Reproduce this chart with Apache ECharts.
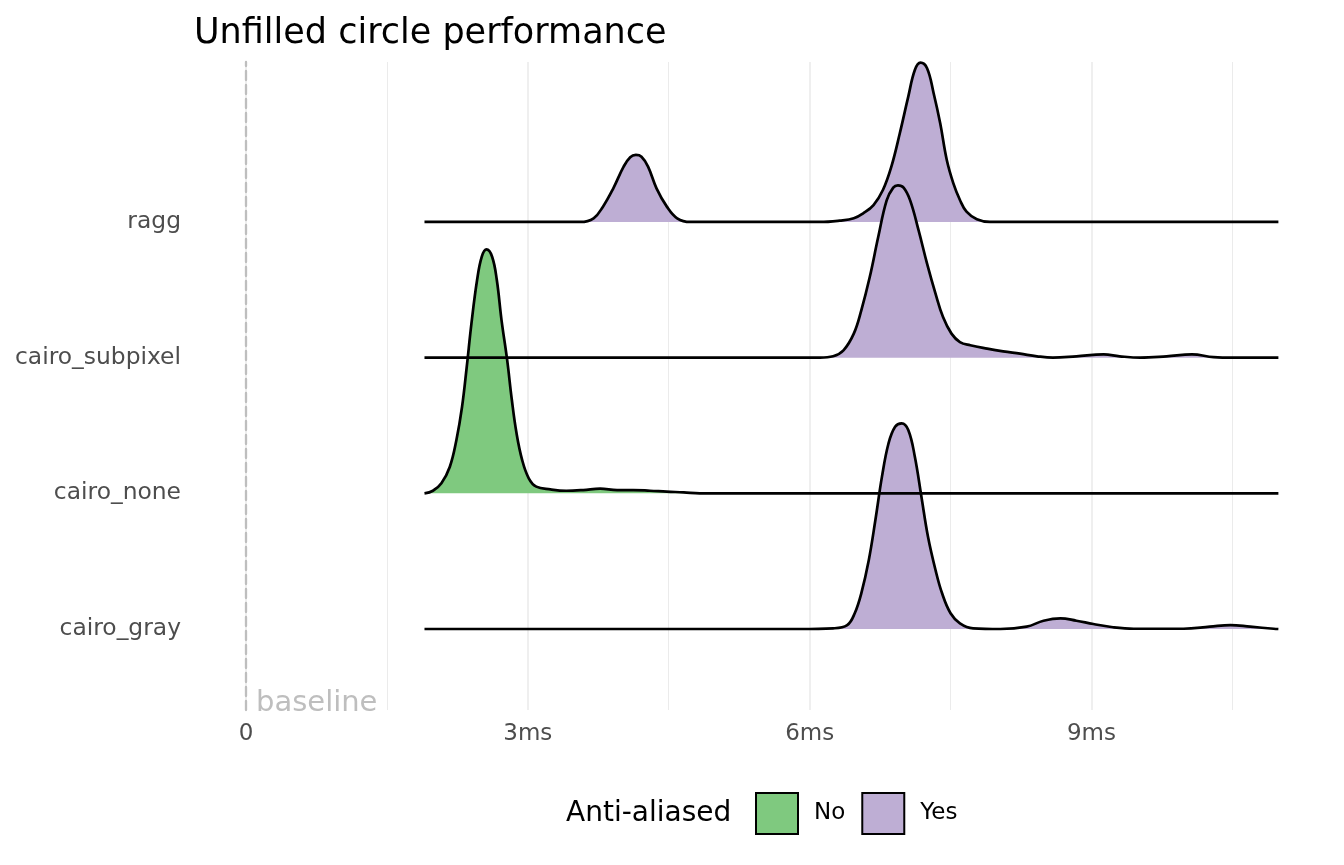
<!DOCTYPE html>
<html>
<head>
<meta charset="utf-8">
<title>Unfilled circle performance</title>
<script src="https://cdn.jsdelivr.net/npm/echarts@6/dist/echarts.min.js"></script>
<style>
  html, body { margin: 0; padding: 0; background: #fff; }
  #chart { width: 1344px; height: 865px; }
</style>
</head>
<body>
<div id="chart"></div>
<script>
// renderers from bottom ridge to top ridge; ridge baseline = index + 1
const renderers = ['cairo_gray', 'cairo_none', 'cairo_subpixel', 'ragg'];
const antiAliased = ['Yes', 'No', 'Yes', 'Yes'];
const fillColors = { No: '#7fc97f', Yes: '#beaed4' };
const xTicks = [0, 3, 6, 9];

// densities: [time (ms), scaled density]
const grayDensity = [
    [1.9, 0], [5.90, 0], [6.25, 0.005], [6.40, 0.029], [6.48, 0.116], [6.55, 0.263],
    [6.63, 0.509], [6.70, 0.803], [6.77, 1.123], [6.84, 1.369], [6.91, 1.491], [6.98, 1.516],
    [7.05, 1.467], [7.12, 1.270], [7.19, 0.975], [7.26, 0.680], [7.34, 0.435], [7.41, 0.263],
    [7.50, 0.116], [7.60, 0.042], [7.74, 0.005], [8.03, 0], [8.31, 0.017], [8.49, 0.061],
    [8.67, 0.079], [8.84, 0.061], [9.02, 0.037], [9.23, 0.013], [9.45, 0.002], [9.98, 0.002],
    [10.26, 0.017], [10.48, 0.029], [10.69, 0.017], [10.94, 0.002], [10.99, 0]
];
const noneDensity = [
    [1.9, 0], [1.99, 0.019], [2.08, 0.074], [2.17, 0.196], [2.24, 0.393], [2.30, 0.638],
    [2.35, 0.933], [2.40, 1.253], [2.46, 1.572], [2.51, 1.744], [2.56, 1.798], [2.62, 1.744],
    [2.67, 1.572], [2.72, 1.277], [2.78, 0.983], [2.83, 0.688], [2.88, 0.442], [2.94, 0.245],
    [3.01, 0.111], [3.09, 0.049], [3.24, 0.029], [3.41, 0.019], [3.59, 0.024], [3.77, 0.034],
    [3.95, 0.024], [4.12, 0.024], [4.30, 0.019], [4.48, 0.012], [4.66, 0.007], [4.83, 0],
    [10.99, 0]
];
const subpixelDensity = [
    [1.9, 0], [6.11, 0], [6.25, 0.010], [6.36, 0.054], [6.47, 0.177], [6.55, 0.349],
    [6.64, 0.594], [6.73, 0.889], [6.82, 1.159], [6.89, 1.253], [6.94, 1.270], [7.00, 1.253],
    [7.07, 1.159], [7.16, 0.938], [7.25, 0.693], [7.34, 0.472], [7.42, 0.299], [7.51, 0.177],
    [7.60, 0.115], [7.71, 0.091], [7.89, 0.066], [8.06, 0.046], [8.24, 0.029], [8.42, 0.010],
    [8.59, 0], [8.84, 0.010], [9.13, 0.024], [9.30, 0.010], [9.52, 0], [9.80, 0.010],
    [10.07, 0.024], [10.30, 0.004], [10.51, 0], [10.99, 0]
];
const raggDensity = [
    [1.9, 0], [3.56, 0], [3.70, 0.027], [3.80, 0.113], [3.91, 0.248], [4.02, 0.408],
    [4.09, 0.477], [4.15, 0.494], [4.21, 0.481], [4.28, 0.408], [4.37, 0.248], [4.48, 0.113],
    [4.59, 0.027], [4.73, 0], [6.11, 0], [6.32, 0.010], [6.47, 0.027], [6.57, 0.064],
    [6.68, 0.125], [6.78, 0.236], [6.87, 0.408], [6.96, 0.654], [7.05, 0.924], [7.12, 1.120],
    [7.18, 1.174], [7.25, 1.133], [7.32, 0.949], [7.39, 0.727], [7.46, 0.457], [7.53, 0.285],
    [7.60, 0.162], [7.67, 0.076], [7.78, 0.020], [7.92, 0], [10.99, 0]
];
const densities = [grayDensity, noneDensity, subpixelDensity, raggDensity];

const yMin = 0.403;
const yMax = 5.179;

const chart = echarts.init(document.getElementById('chart'));

// top ridge first so the lower ridges paint over it, like ggridges
const series = [];
for (let i = renderers.length - 1; i >= 0; i--) {
    const base = i + 1;
    series.push({
        name: antiAliased[i],
        type: 'line',
        data: densities[i].map(d => [d[0], base + d[1]]),
        symbol: 'none',
        smooth: 0.4,
        silent: true,
        lineStyle: { color: '#000', width: 2.7, cap: 'butt', join: 'round' },
        itemStyle: { color: fillColors[antiAliased[i]] },
        areaStyle: { color: fillColors[antiAliased[i]], opacity: 1, origin: base },
        emphasis: { disabled: true }
    });
}

const option = {
    animation: false,
    textStyle: { fontFamily: 'DejaVu Sans' },
    title: {
        text: 'Unfilled circle performance',
        left: 194,
        top: 16,
        padding: 0,
        textStyle: { fontSize: 35, fontWeight: 'normal', color: '#000', fontFamily: 'DejaVu Sans' }
    },
    legend: {
        data: [
            { name: 'No', itemStyle: { color: fillColors.No } },
            { name: 'Yes', itemStyle: { color: fillColors.Yes } }
        ],
        left: 755,
        top: 792,
        padding: 0,
        icon: 'rect',
        itemWidth: 42,
        itemHeight: 41,
        itemGap: 16,
        selectedMode: false,
        itemStyle: { borderColor: '#000', borderWidth: 2 },
        textStyle: { fontSize: 23, color: '#000', padding: [2, 0, 0, 11], fontFamily: 'DejaVu Sans' }
    },
    grid: { left: 246, right: 13, top: 62, bottom: 155, containLabel: false },
    xAxis: {
        type: 'value',
        min: 0,
        max: 11.55,
        interval: 3,
        axisLine: { show: false },
        axisTick: { show: false },
        axisLabel: {
            margin: 13,
            fontSize: 23,
            color: '#4d4d4d',
            showMaxLabel: false,
            formatter: v => xTicks.includes(v) ? (v === 0 ? '0' : v + 'ms') : ''
        },
        splitLine: { show: true, showMaxLine: false, lineStyle: { color: '#ebebeb', width: 1.6 } },
        minorTick: { show: false, splitNumber: 2 },
        minorSplitLine: { show: true, lineStyle: { color: '#ebebeb', width: 1 } }
    },
    yAxis: {
        type: 'value',
        min: yMin,
        max: yMax,
        axisLine: { show: true, lineStyle: { color: '#bebebe', width: 2.3, type: [9, 5] } },
        axisTick: { show: false },
        splitLine: { show: false },
        axisLabel: {
            margin: 65,
            fontSize: 23.4,
            color: '#4d4d4d',
            formatter: v => {
                const i = Math.round(v);
                return Math.abs(v - i) < 1e-6 && i >= 1 && i <= renderers.length ? renderers[i - 1] : '';
            }
        }
    },
    series: series
};

chart.setOption(option);

// annotation at the baseline and legend title
const origin = chart.convertToPixel({ gridIndex: 0 }, [0, yMin]);
chart.setOption({
    graphic: [
        {
            type: 'text',
            x: origin[0] + 10,
            y: origin[1] + 8,
            silent: true,
            style: {
                text: 'baseline',
                fill: '#bebebe',
                font: '29px "DejaVu Sans"',
                textAlign: 'left',
                textVerticalAlign: 'bottom'
            }
        },
        {
            type: 'text',
            x: 566,
            y: 814,
            silent: true,
            style: {
                text: 'Anti-aliased',
                fill: '#000',
                font: '28px "DejaVu Sans"',
                textAlign: 'left',
                textVerticalAlign: 'middle'
            }
        }
    ]
});

window.addEventListener('resize', function () {
    chart.resize();
});
</script>
</body>
</html>
